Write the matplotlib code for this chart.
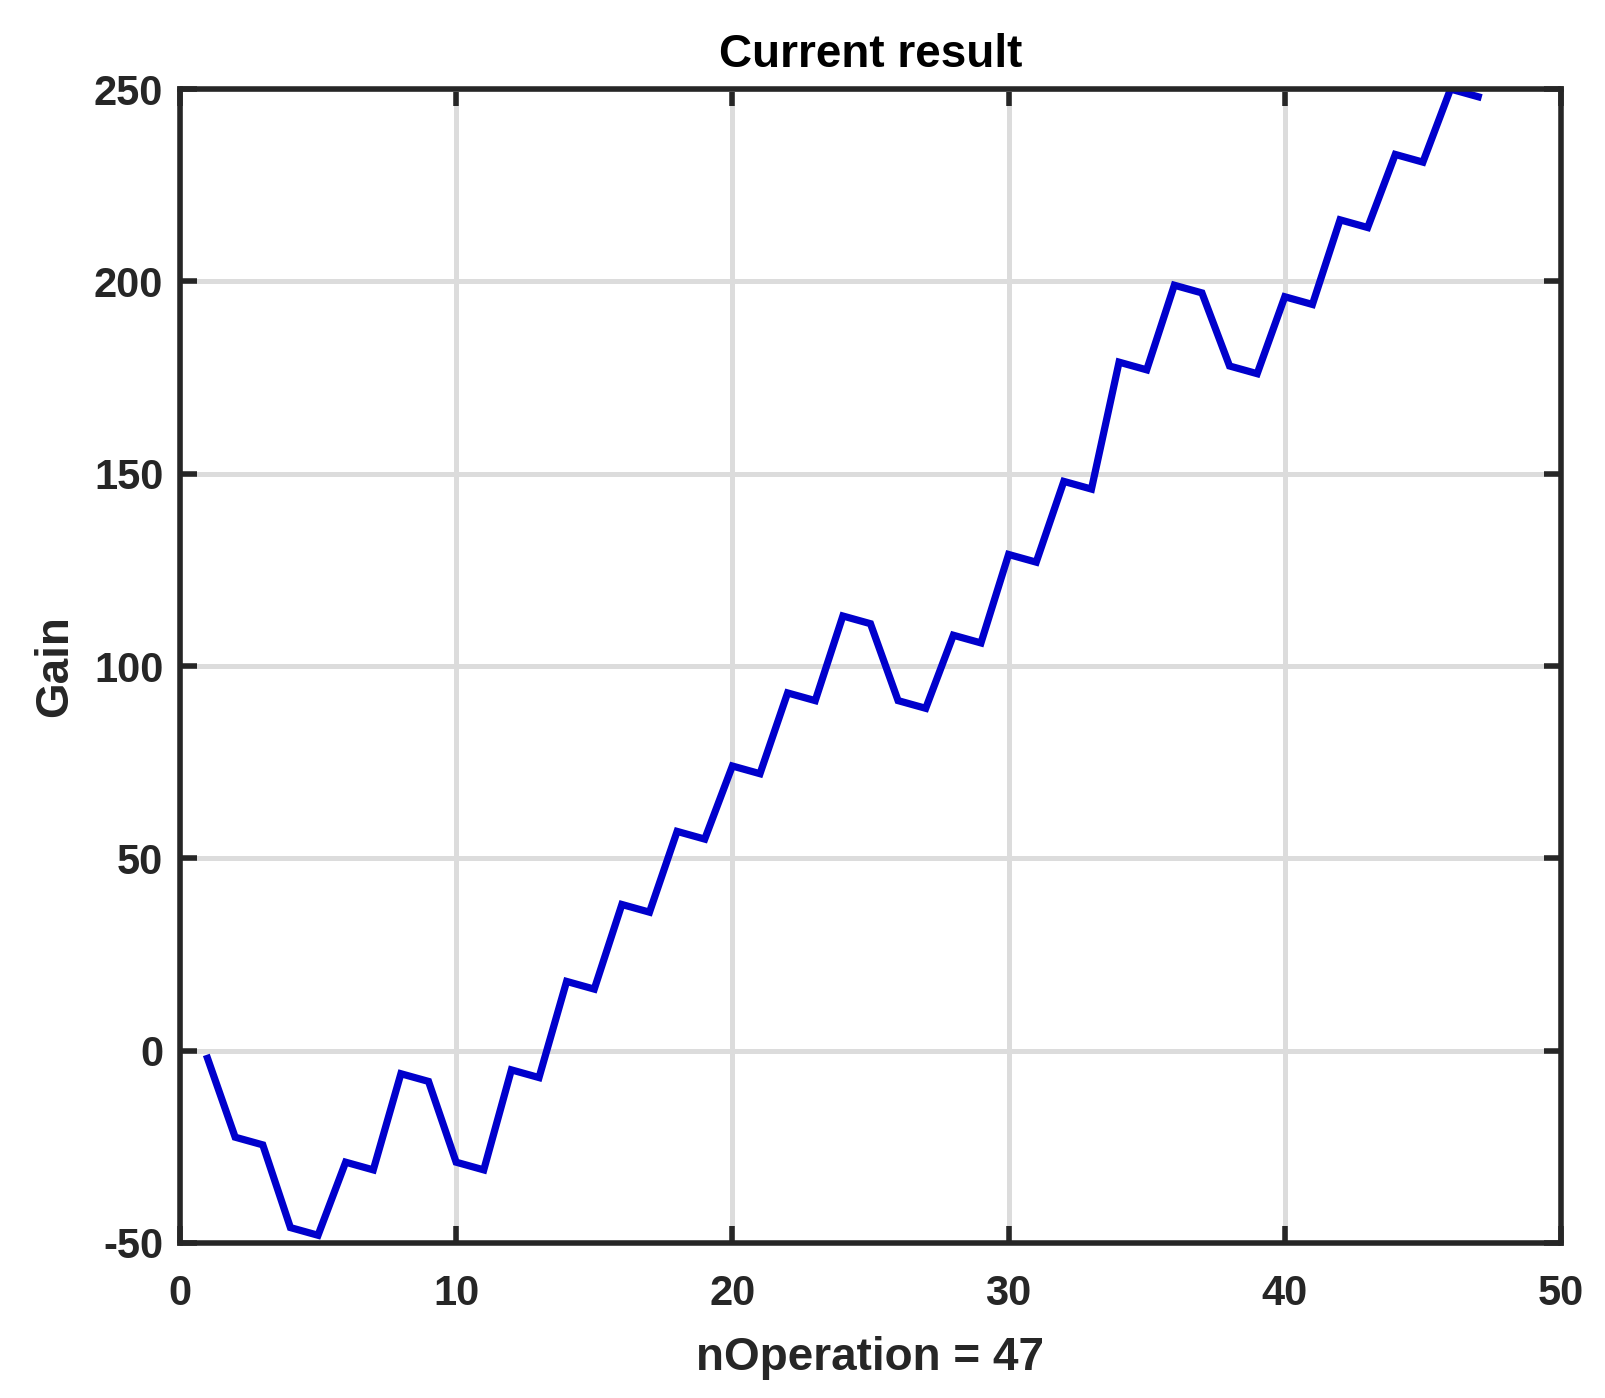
import matplotlib
matplotlib.use("Agg")
import matplotlib.pyplot as plt

plt.rcParams['font.family'] = ['Liberation Sans', 'DejaVu Sans']
plt.rcParams['font.weight'] = 'bold'
plt.rcParams['axes.unicode_minus'] = False

n_operation = list(range(1, 48))
gain = [-2, -22.5, -24.5, -46, -48, -29, -31, -6, -8, -29,
        -31, -5, -7, 18, 16, 38, 36, 57, 55, 74,
        72, 93, 91, 113, 111, 91, 89, 108, 106, 129,
        127, 148, 146, 179, 177, 199, 197, 178, 176, 196,
        194, 216, 214, 233, 231, 250, 248]
x_ticks = [0, 10, 20, 30, 40, 50]
y_ticks = [-50, 0, 50, 100, 150, 200, 250]

fig = plt.figure(figsize=(16.05, 13.98), dpi=100)
ax = fig.add_axes([0.1121, 0.1109, 0.8605, 0.8254])
ax.plot(n_operation, gain, color='#0000CC', linewidth=5.2, solid_joinstyle='miter', clip_on=True)
ax.set_xlim(0, 50)
ax.set_ylim(-50, 250)
ax.set_xticks(x_ticks)
ax.set_yticks(y_ticks)
ax.grid(True, color='#dcdcdc', linewidth=3.6)
ax.set_axisbelow(True)
for s in ax.spines.values():
    s.set_linewidth(4)
    s.set_color('#262626')
ax.tick_params(direction='in', length=12, width=4, color='#262626',
               top=True, right=True, labelsize=30, labelcolor='#262626')
ax.tick_params(axis='x', pad=22)
ax.tick_params(axis='y', pad=12)
for lbl in ax.get_xticklabels() + ax.get_yticklabels():
    lbl.set_fontweight('bold')
ax.set_title('Current result', fontsize=33, fontweight='bold', color='#000000', pad=16)
ax.set_xlabel('nOperation = 47', fontsize=33, fontweight='bold', color='#262626', labelpad=16)
ax.set_ylabel('Gain', fontsize=33, fontweight='bold', color='#262626', labelpad=12)
fig.savefig('out.png', dpi=100, facecolor='white')
